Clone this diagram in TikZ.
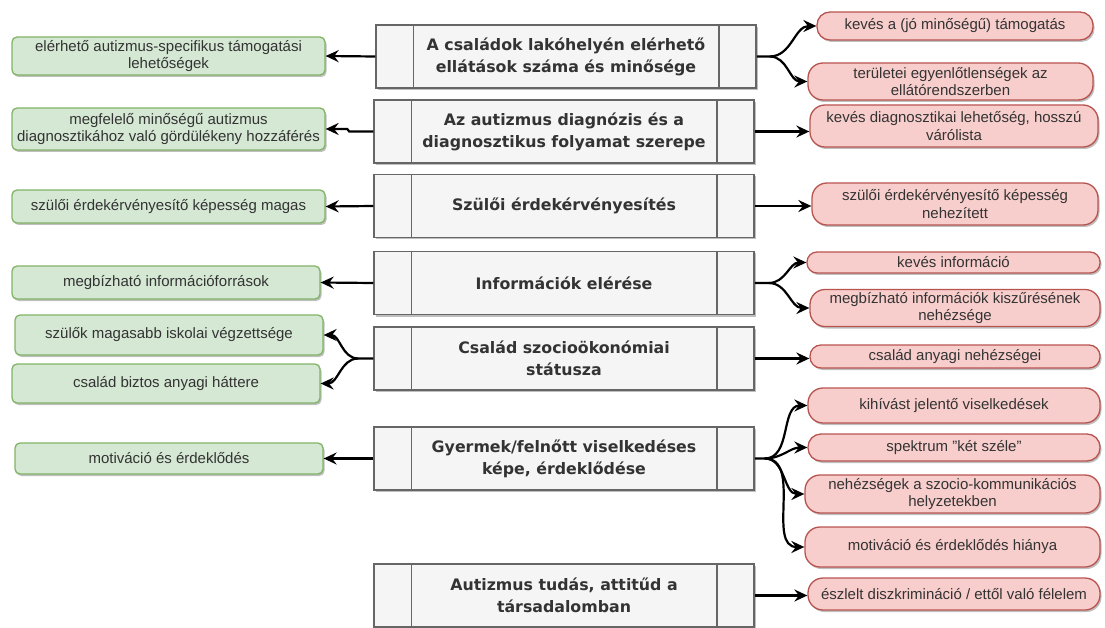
\documentclass[tikz,border=0pt]{standalone}
\usepackage{fontspec}
\setmainfont{Liberation Sans}
\newfontfamily\headfont{DejaVu Sans}
\usetikzlibrary{arrows.meta,shadows}
\definecolor{goodfill}{HTML}{D5E8D4}
\definecolor{gooddraw}{HTML}{82B366}
\definecolor{badfill}{HTML}{F8CECC}
\definecolor{baddraw}{HTML}{B85450}
\definecolor{procfill}{HTML}{F5F5F5}
\definecolor{procdraw}{HTML}{666666}
\definecolor{txt}{HTML}{333333}
\tikzset{
  boxshadow/.style={drop shadow={shadow xshift=1.5pt,shadow yshift=-2pt,opacity=0.25,fill=black}},
  factor/.style={draw=procdraw,fill=procfill,line width=1.5pt,minimum width=380pt,minimum height=63pt,
    inner sep=0pt,text=txt,align=center,font=\headfont\bfseries\fontsize{15.8}{22}\selectfont,boxshadow},
  procline/.style={draw=procdraw,line width=1.5pt},
  good/.style={draw=gooddraw,fill=goodfill,line width=1.3pt,rounded corners=5pt,inner sep=0pt,
    text=txt,align=center,font=\fontsize{15}{17.5}\selectfont,boxshadow},
  bad/.style={draw=baddraw,fill=badfill,line width=1.3pt,rounded corners=#1,inner sep=0pt,
    text=txt,align=center,font=\fontsize{15}{17.5}\selectfont,boxshadow},
  bad/.default=15pt,
  link/.style={line width=2.2pt,-{Stealth[length=13pt,width=12pt,inset=4.5pt]}}
}
\begin{document}
\begin{tikzpicture}[x=1pt,y=-1pt]
  \useasboundingbox (0,0) rectangle (1105,628);
  % middle column
  \node[factor] (c1) at (566,56.5) {A családok lakóhelyén elérhető\\ellátások száma és minősége};
  \node[factor] (c2) at (564,131.5) {Az autizmus diagnózis és a\\diagnosztikus folyamat szerepe};
  \node[factor] (c3) at (564,206) {Szülői érdekérvényesítés};
  \node[factor] (c4) at (564,283) {Információk elérése};
  \node[factor] (c5) at (564,358.5) {Család szocioökonómiai\\státusza};
  \node[factor] (c6) at (564,458.5) {Gyermek/felnőtt viselkedéses\\képe, érdeklődése};
  \node[factor] (c7) at (564,595.5) {Autizmus tudás, attitűd a\\társadalomban};
  \foreach \n in {c1,c2,c3,c4,c5,c6,c7} {
    \draw[procline] ([xshift=38pt]\n.north west) -- ([xshift=38pt]\n.south west);
    \draw[procline] ([xshift=-38pt]\n.north east) -- ([xshift=-38pt]\n.south east);
  }
  % left column
  \node[good,minimum width=313pt,minimum height=38pt] (g1) at (168.5,56) {elérhető autizmus-specifikus támogatási\\lehetőségek};
  \node[good,minimum width=313pt,minimum height=42pt] (g2) at (168.5,129) {megfelelő minőségű autizmus\\diagnosztikához való gördülékeny hozzáférés};
  \node[good,minimum width=313pt,minimum height=33pt] (g3) at (168.5,206.5) {szülői érdekérvényesítő képesség magas};
  \node[good,minimum width=308pt,minimum height=33pt] (g4) at (166,282.5) {megbízható információforrások};
  \node[good,minimum width=308pt,minimum height=40pt] (g5) at (169,335) {szülők magasabb iskolai végzettsége};
  \node[good,minimum width=308pt,minimum height=39pt] (g6) at (166,383.5) {család biztos anyagi háttere};
  \node[good,minimum width=308pt,minimum height=31pt] (g7) at (169,458.5) {motiváció és érdeklődés};
  % right column
  \node[bad=13pt,minimum width=276pt,minimum height=28pt] (r1) at (955,26) {kevés a (jó minőségű) támogatás};
  \node[bad,minimum width=285pt,minimum height=37pt] (r2) at (950.5,81.5) {területei egyenlőtlenségek az\\ellátórendszerben};
  \node[bad,minimum width=288pt,minimum height=42pt] (r3) at (954,126) {kevés diagnosztikai lehetőség, hosszú\\várólista};
  \node[bad,minimum width=286pt,minimum height=42pt] (r4) at (955,204) {szülői érdekérvényesítő képesség\\nehezített};
  \node[bad=10pt,minimum width=293pt,minimum height=21pt] (r5) at (953.5,262.5) {kevés információ};
  \node[bad,minimum width=290pt,minimum height=37pt] (r6) at (955,308) {megbízható információk kiszűrésének\\nehézsége};
  \node[bad=11pt,minimum width=290pt,minimum height=23pt] (r7) at (955,356.5) {család anyagi nehézségei};
  \node[bad,minimum width=292pt,minimum height=35pt] (r8) at (954,405.5) {kihívást jelentő viselkedések};
  \node[bad=13pt,minimum width=292pt,minimum height=27pt] (r9) at (954,447.5) {spektrum "két széle"};
  \node[bad,minimum width=295pt,minimum height=38pt] (r10) at (952.5,494) {nehézségek a szocio-kommunikációs\\helyzetekben};
  \node[bad,minimum width=295pt,minimum height=40pt] (r11) at (952.5,547) {motiváció és érdeklődés hiánya};
  \node[bad,minimum width=292pt,minimum height=32pt] (r12) at (954,594) {észlelt diszkrimináció / ettől való félelem};
  % arrows to the left
  \draw[link] (c1.west) -- (g1.east);
  \draw[link] (c2.west) -- ++(-24,0) -- ++(-2,-2.5) -- (g2.east);
  \draw[link] (c3.west) -- (g3.east);
  \draw[link] (c4.west) -- (g4.east);
  \draw[link] (c5.west) -- ++(-15,0) coordinate (s5) to[out=180,in=0] (g5.east);
  \draw[link] (s5) to[out=180,in=0] (g6.east);
  \draw[link] (c6.west) -- (g7.east);
  % arrows to the right
  \draw[link] (c1.east) -- ++(13,0) coordinate (s1) to[out=0,in=180] (r1.west);
  \draw[link] (s1) to[out=0,in=180] (r2.west);
  \draw[link] (c2.east) -- (c2.east -| r3.west);
  \draw[link] (c3.east) -- (c3.east -| r4.west);
  \draw[link] (c4.east) -- ++(14,0) coordinate (s4) to[out=0,in=180] (r5.west);
  \draw[link] (s4) to[out=0,in=180] (r6.west);
  \draw[link] (c5.east) -- (c5.east -| r7.west);
  \draw[link] (c6.east) -- ++(10,0) coordinate (s6) to[out=0,in=180] (r8.west);
  \draw[link] (s6) to[out=0,in=180] (r9.west);
  \draw[link] (s6) to[out=0,in=180] (r10.west);
  \draw[link] (s6) to[out=0,in=180] (r11.west);
  \draw[link] (c7.east) -- (c7.east -| r12.west);
\end{tikzpicture}
\end{document}
